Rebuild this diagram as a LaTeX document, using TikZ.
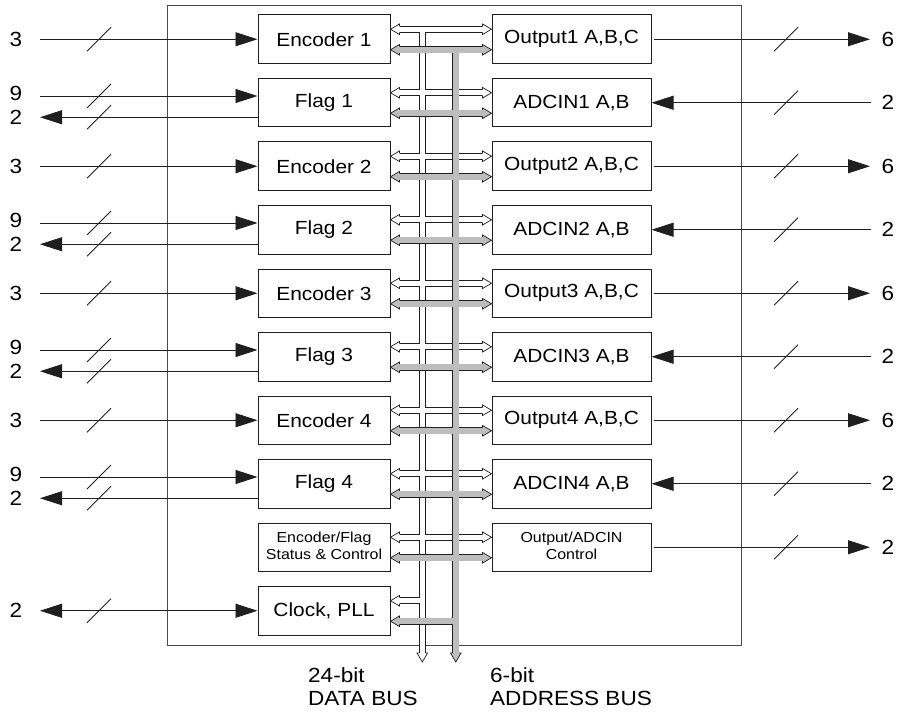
\documentclass[tikz,border=0pt]{standalone}
\usepackage{fontspec}
\setmainfont{Liberation Sans}
\usetikzlibrary{arrows.meta,calc}
\definecolor{busgray}{gray}{0.74}
\definecolor{ink}{gray}{0.12}
\newcommand\sx[1]{\scalebox{1.1}[1]{#1}}
\newcommand\headL[2]{%
  \path (#1) coordinate (hT);
  \fill[#2] (hT) -- ++(9,-5.3) -- ++(0,10.6) -- cycle;
  \draw[headline] ($(hT)+(9,-3.3)$) -- ($(hT)+(9,-5.3)$) -- (hT) -- ($(hT)+(9,5.3)$) -- ($(hT)+(9,3.3)$);}
\newcommand\headR[2]{%
  \path (#1) coordinate (hT);
  \fill[#2] (hT) -- ++(-9,-5.3) -- ++(0,10.6) -- cycle;
  \draw[headline] ($(hT)+(-9,-3.3)$) -- ($(hT)+(-9,-5.3)$) -- (hT) -- ($(hT)+(-9,5.3)$) -- ($(hT)+(-9,3.3)$);}
\newcommand\headD[2]{%
  \path (#1) coordinate (hT);
  \fill[#2] (hT) -- ++(-5.3,-9) -- ++(10.6,0) -- cycle;
  \draw[headline] ($(hT)+(-3.3,-9)$) -- ($(hT)+(-5.3,-9)$) -- (hT) -- ($(hT)+(5.3,-9)$) -- ($(hT)+(3.3,-9)$);}
\begin{document}
\begin{tikzpicture}[x=1pt,y=-1pt,
  box/.style={draw=ink, line width=1pt, fill=white, minimum height=48.5pt, inner sep=0pt,
    font=\fontsize{19}{22}\selectfont},
  lbox/.style={box, minimum width=132pt},
  rbox/.style={box, minimum width=159pt},
  num/.style={font=\fontsize{20.5}{24}\selectfont, inner sep=0pt},
  lab/.style={font=\fontsize{20.5}{24}\selectfont, inner sep=0pt, anchor=base west},
  sig/.style={draw=ink, line width=0.8pt},
  tip/.style={-{Triangle[length=22pt,width=14pt]}},
  btip/.style={{Triangle[length=22pt,width=14pt]}-{Triangle[length=22pt,width=14pt]}},
  headline/.style={draw=ink, line width=0.7pt, line join=miter},
  wbus/.style={draw=ink, line width=0.7pt, double=white, double distance=5.2pt},
  gbus/.style={draw=ink, line width=0.7pt, double=busgray, double distance=5.6pt}]
\useasboundingbox (0,0) rectangle (901,714);

% outer frame
\node[draw=ink!80, line width=0.9pt, minimum width=574.5pt, minimum height=640.5pt, inner sep=0pt] (frame) at (454.25,325.25) {};

% left blocks
\node[lbox] (L0) at (324,39.25)  {\sx{Encoder 1}};
\node[lbox] (L1) at (324,102.75) {\sx{Flag 1}};
\node[lbox] (L2) at (324,166.25) {\sx{Encoder 2}};
\node[lbox] (L3) at (324,229.75) {\sx{Flag 2}};
\node[lbox] (L4) at (324,293.25) {\sx{Encoder 3}};
\node[lbox] (L5) at (324,356.75) {\sx{Flag 3}};
\node[lbox] (L6) at (324,420.25) {\sx{Encoder 4}};
\node[lbox] (L7) at (324,483.75) {\sx{Flag 4}};
\node[lbox] (L8) at (324,547.25) {\sx{\fontsize{14.5}{17}\selectfont\begin{tabular}{@{}c@{}}Encoder/Flag\\Status \& Control\end{tabular}}};
\node[lbox] (L9) at (324,610.75) {\sx{Clock, PLL}};

% right blocks
\node[rbox] (R0) at (571.5,39.25)  {\sx{Output1 A,B,C}};
\node[rbox] (R1) at (571.5,102.75) {\sx{ADCIN1 A,B}};
\node[rbox] (R2) at (571.5,166.25) {\sx{Output2 A,B,C}};
\node[rbox] (R3) at (571.5,229.75) {\sx{ADCIN2 A,B}};
\node[rbox] (R4) at (571.5,293.25) {\sx{Output3 A,B,C}};
\node[rbox] (R5) at (571.5,356.75) {\sx{ADCIN3 A,B}};
\node[rbox] (R6) at (571.5,420.25) {\sx{Output4 A,B,C}};
\node[rbox] (R7) at (571.5,483.75) {\sx{ADCIN4 A,B}};
\node[rbox] (R8) at (571.5,547.25) {\sx{\fontsize{14.5}{17}\selectfont\begin{tabular}{@{}c@{}}Output/ADCIN\\Control\end{tabular}}};

% left side signals: encoders
\foreach \i in {0,2,4,6} {
  \coordinate (e\i) at (40,{39.25+63.5*\i});
  \draw[sig,tip] (e\i) -- (e\i -| L\i.west);
  \draw[sig] ($(e\i)+(47,12)$) -- ++(24,-24);
  \node[num] (n\i) at ($(e\i)+(-24,0)$) {\sx{3}};
}
% left side signals: flags
\foreach \i in {1,3,5,7} {
  \coordinate (fi\i) at (40,{39.25+63.5*\i-6.75});
  \coordinate (fo\i) at (40,{39.25+63.5*\i+14.5});
  \draw[sig,tip] (fi\i) -- (fi\i -| L\i.west);
  \draw[sig,tip] (fo\i -| L\i.west) -- (fo\i);
  \draw[sig] ($(fi\i)+(47,12)$) -- ++(24,-24);
  \draw[sig] ($(fo\i)+(47,12)$) -- ++(24,-24);
  \node[num] (ni\i) at ($(fi\i)+(-24,-2.5)$) {\sx{9}};
  \node[num] (no\i) at ($(fo\i)+(-24,0.5)$) {\sx{2}};
}
% clock
\coordinate (c9) at (40,610.75);
\draw[sig,btip] (c9) -- (c9 -| L9.west);
\draw[sig] ($(c9)+(47,12)$) -- ++(24,-24);
\node[num] (n9) at ($(c9)+(-24,0)$) {\sx{2}};

% right side signals: outputs
\foreach \i in {0,2,4,6,8} {
  \coordinate (o\i) at (870,{39.25+63.5*\i});
  \draw[sig,tip] ($(o\i -| R\i.east)+(2,0)$) -- (o\i);
  \draw[sig] ($(o\i)+(-96,12)$) -- ++(24,-24);
}
\foreach \i in {0,2,4,6} {
  \node[num] (m\i) at ($(o\i)+(18,0)$) {\sx{6}};
}
\node[num] (m8) at ($(o8)+(18,0)$) {\sx{2}};
% right side signals: ADCIN
\foreach \i in {1,3,5,7} {
  \coordinate (a\i) at (871,{39.25+63.5*\i});
  \draw[sig,tip] (a\i) -- (a\i -| R\i.east);
  \draw[sig] ($(a\i)+(-97,12)$) -- ++(24,-24);
  \node[num] (m\i) at ($(a\i)+(17,0)$) {\sx{2}};
}

% data bus (white)
\coordinate (dtop) at (422.3,29.25);
\coordinate (dbot) at (422.3,662);
\coordinate (w9) at ($(L9.east)+(0,-10)$);
\draw[wbus] \foreach \i in {0,...,8} { ($(L\i.east)+(7.5,-10)$) -- ($(R\i.west)+(-7.5,-10)$) }
  (dtop) -- ($(dbot)+(0,-7.5)$)
  ($(w9)+(7.5,0)$) -- (w9 -| dtop);
\foreach \i in {0,...,8} {
  \headL{$(L\i.east)+(0,-10)$}{white}
  \headR{$(R\i.west)+(0,-10)$}{white}
}
\headL{w9}{white}
\headD{dbot}{white}

% address bus (gray)
\coordinate (atop) at (455.8,49.75);
\coordinate (abot) at (455.8,662);
\coordinate (g9) at ($(L9.east)+(0,10.5)$);
\draw[gbus] \foreach \i in {0,...,8} { ($(L\i.east)+(7.5,10.5)$) -- ($(R\i.west)+(-7.5,10.5)$) }
  (atop) -- ($(abot)+(0,-7.5)$)
  ($(g9)+(7.5,0)$) -- (g9 -| atop);
\foreach \i in {0,...,8} {
  \headL{$(L\i.east)+(0,10.5)$}{busgray}
  \headR{$(R\i.west)+(0,10.5)$}{busgray}
}
\headL{g9}{busgray}
\headD{abot}{busgray}

% bus labels
\node[lab] (d1) at (308,682) {\sx{24-bit}};
\node[lab] (d2) at (308,705) {\sx{DATA BUS}};
\node[lab] (a1) at (490,682) {\sx{6-bit}};
\node[lab] (a2) at (490,705) {\sx{ADDRESS BUS}};
\end{tikzpicture}
\end{document}
